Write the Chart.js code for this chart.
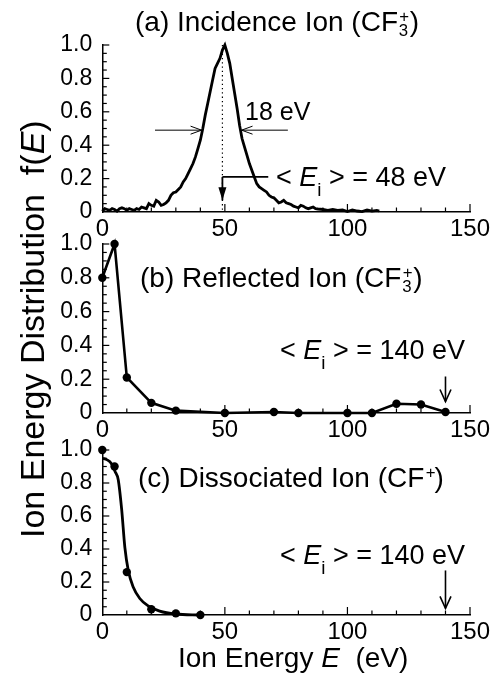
<!DOCTYPE html>
<html><head><meta charset="utf-8">
<script src="https://cdn.jsdelivr.net/npm/chart.js@4.4.1/dist/chart.umd.min.js"></script>
<style>
html,body{margin:0;padding:0;background:#fff;}
#wrap{position:relative;width:498px;height:677px;overflow:hidden;font-family:"Liberation Sans",Arial,Helvetica,sans-serif;color:#000;}
canvas{position:absolute;left:0;top:0;}
.t{position:absolute;white-space:nowrap;line-height:1;}
.e{font-style:italic;}
.si{font-size:0.7em;position:relative;top:0.5em;}
.ss{display:inline-block;position:relative;width:0.42em;height:1em;}
.ss .sp{position:absolute;left:0.08em;top:0.33em;font-size:0.6em;line-height:1;}
.ss .sb{position:absolute;left:0.05em;top:1.17em;font-size:0.6em;line-height:1;}
</style></head>
<body>
<div id="wrap">
<canvas id="ca" width="498" height="677"></canvas>
<canvas id="cb" width="498" height="677"></canvas>
<canvas id="cc" width="498" height="677"></canvas>
<div class="t" style="font-size:28px;left:135px;top:3.3px">(a) Incidence Ion (CF<span class="ss"><span class="sp">+</span><span class="sb">3</span></span>)</div>
<div class="t" style="font-size:25px;left:245px;top:98.8px">18 eV</div>
<div class="t" style="font-size:27px;left:276px;top:164.1px">&lt; <span class="e">E</span><span class="si">i</span> &gt; = 48 eV</div>
<div class="t" style="font-size:28px;left:140px;top:259.3px">(b) Reflected Ion (CF<span class="ss"><span class="sp">+</span><span class="sb">3</span></span>)</div>
<div class="t" style="font-size:27px;left:280px;top:337.1px">&lt; <span class="e">E</span><span class="si">i</span> &gt; = 140 eV</div>
<div class="t" style="font-size:28px;left:138px;top:459.3px">(c) Dissociated Ion (CF<span class="ss" style="width:0.36em"><span class="sp">+</span></span>)</div>
<div class="t" style="font-size:27px;left:280px;top:542.1px">&lt; <span class="e">E</span><span class="si">i</span> &gt; = 140 eV</div>
<div class="t" style="font-size:28px;left:178px;top:644.3px">Ion Energy <span class="e">E</span>&nbsp; (eV)</div>
<div class="t" style="font-size:34px;left:15px;top:538px;transform-origin:0 0;transform:rotate(-90deg)">Ion Energy Distribution&nbsp; f(<span class="e">E</span>)</div>
</div>
<script>
// ---------------- data ----------------
const X_TICKS = [0, 50, 100, 150];
const Y_TICKS = [0, 0.2, 0.4, 0.6, 0.8, 1.0];
const X_MINOR_STEP = 10;
const Y_MINOR_STEP = 0.05;

// (a) incident ion CF3+
const incidenceE = [0,1,2,3,4,5,6,7,8,9,10,11,12,13,14,15,16,17,18,19,20,21,22,23,24,25,26,27,28,29,30,31,32,33,34,35,36,37,38,39,40,41,42,43,44,45,46,47,48,49,50,51,52,53,54,55,56,57,58,59,60,61,62,63,64,65,66,67,68,69,70,71,72,73,74,75,76,77,78,79,80,81,82,83,84,85,86,87,88,90,92,94,96,98,100,102,104,106,108,110,112,113];
const incidenceF = [0.005,0.02,0.015,0.01,0.02,0.015,0.005,0.02,0.025,0.02,0.01,0.02,0.015,0.01,0.02,0.015,0.03,0.025,0.02,0.05,0.04,0.035,0.07,0.06,0.04,0.045,0.055,0.07,0.1,0.115,0.12,0.135,0.15,0.18,0.2,0.23,0.26,0.29,0.33,0.38,0.43,0.5,0.58,0.65,0.72,0.79,0.86,0.89,0.92,0.97,1.0,0.95,0.89,0.8,0.71,0.62,0.52,0.44,0.39,0.34,0.29,0.25,0.21,0.17,0.15,0.14,0.13,0.12,0.1,0.09,0.085,0.07,0.055,0.06,0.07,0.055,0.05,0.045,0.035,0.03,0.025,0.04,0.035,0.025,0.02,0.025,0.03,0.02,0.018,0.015,0.01,0.015,0.01,0.012,0.003,0.012,0.006,0.002,0.012,0.005,0.01,0.006];

// (b) reflected ion CF3+
const reflectedE = [0,5,10,20,30,50,70,80,100,110,120,130,140];
const reflectedF = [0.80,1.00,0.21,0.06,0.014,0,0.006,0,0,0,0.055,0.05,0.006];

// (c) dissociated ion CF+
const dissocE = [0,5,10,20,30,40];
const dissocF = [1.0,0.90,0.26,0.035,0.01,0];
const dissocFitE = [0,2,3.6,5.2,6.5,7.9,9.2,10.6,12.6,15.3,18.7,23.4,30,40];
const dissocFitF = [0.95,0.94,0.92,0.87,0.82,0.64,0.41,0.27,0.17,0.10,0.055,0.024,0.006,0];

// annotations (data coordinates)
const MEAN_A = 49;
const MEAN_A_BEND = 0.21;
const MEAN_A_TIP = 0.07;
const MEAN_A_LEADER_END = 67.7;
const HALF_LEVEL = 0.49;
const HALF_LEFT = [21.5, 40.5];
const HALF_RIGHT = [75.7, 56.8];
const MEAN_BC = 140;
const ARROW_B = [0.216, 0.068];
const ARROW_C = [0.27, 0.04];

// ---------------- helpers ----------------
const FONT = "'Liberation Sans', Arial, Helvetica, sans-serif";
Chart.defaults.font.family = FONT;
Chart.defaults.color = '#000';

function pts(xs, ys){ return xs.map((v,i)=>({x:v, y:ys[i]})); }
function line(ctx,x1,y1,x2,y2){ ctx.beginPath(); ctx.moveTo(x1,y1); ctx.lineTo(x2,y2); ctx.stroke(); }
function vHead(ctx,x,y,dir,len,half,filled){
  ctx.beginPath(); ctx.moveTo(x-half,y-dir*len); ctx.lineTo(x,y); ctx.lineTo(x+half,y-dir*len);
  if(filled){ ctx.closePath(); ctx.fill(); } else ctx.stroke();
}
function hHead(ctx,x,y,dir,len,half){
  ctx.beginPath(); ctx.moveTo(x-dir*len,y-half); ctx.lineTo(x,y); ctx.lineTo(x-dir*len,y+half); ctx.stroke();
}

const inTicks = {
  id:'inTicks',
  afterDraw(chart){
    const ctx = chart.ctx, x = chart.scales.x, y = chart.scales.y;
    const y0 = y.getPixelForValue(0), x0 = x.getPixelForValue(0);
    ctx.save(); ctx.strokeStyle='#000'; ctx.lineWidth=1.2;
    for(let v=X_MINOR_STEP; v<=x.max+1e-6; v+=X_MINOR_STEP){
      const px = x.getPixelForValue(v);
      const len = X_TICKS.includes(v) ? 8 : 4.5;
      line(ctx,px,y0,px,y0-len);
    }
    for(let i=1; i*Y_MINOR_STEP<=y.max+1e-6; i++){
      const v=i*Y_MINOR_STEP, py=y.getPixelForValue(v);
      const major = Y_TICKS.some(t=>Math.abs(t-v)<1e-6);
      line(ctx,x0,py,x0+(major?7:4.5),py);
    }
    ctx.restore();
  }
};

function makePanel(id, datasets, padTop, padBottom, annotate){
  return new Chart(document.getElementById(id), {
    type:'line',
    data:{datasets},
    options:{
      responsive:false, animation:false, devicePixelRatio:1,
      layout:{padding:{top:padTop,bottom:padBottom,left:0,right:28}},
      plugins:{legend:{display:false}, tooltip:{enabled:false}},
      scales:{
        x:{type:'linear', min:0, max:150,
           afterFit:(s)=>{ s.height = 30; },
           afterBuildTicks:(s)=>{ s.ticks = X_TICKS.map(v=>({value:v})); },
           ticks:{font:{size:24}, padding:3, maxRotation:0, autoSkip:false, color:'#000',
                  callback:(v)=>String(v)},
           grid:{display:false, drawTicks:false},
           border:{display:true, color:'#000', width:1.5}},
        y:{type:'linear', min:0, max:1.0,
           afterFit:(s)=>{ s.width = 102.3; },
           afterBuildTicks:(s)=>{ s.ticks = Y_TICKS.map(v=>({value:v})); },
           ticks:{font:{size:23}, padding:10, color:'#000',
                  callback:(v)=> v===0 ? '0' : v.toFixed(1)},
           grid:{display:false, drawTicks:false},
           border:{display:true, color:'#000', width:1.5}}
      }
    },
    plugins:[inTicks, {id:'annot_'+id, afterDraw:(chart)=>annotate(chart)}]
  });
}

// (a)
makePanel('ca', [{
  data: pts(incidenceE, incidenceF), borderColor:'#000', borderWidth:2.8,
  pointRadius:0, tension:0, fill:false, clip:false
}], 45, 677-212-30, (chart)=>{
  const ctx = chart.ctx, x = chart.scales.x, y = chart.scales.y;
  ctx.save(); ctx.strokeStyle='#000'; ctx.fillStyle='#000';
  ctx.lineWidth=1.2; ctx.setLineDash([1.3,3]);
  const mx = x.getPixelForValue(MEAN_A);
  line(ctx,mx,y.getPixelForValue(1.0),mx,y.getPixelForValue(0));
  ctx.setLineDash([]);
  ctx.lineWidth=1.8;
  const by = y.getPixelForValue(MEAN_A_BEND), ty = y.getPixelForValue(MEAN_A_TIP);
  line(ctx,x.getPixelForValue(MEAN_A_LEADER_END),by,mx,by);
  line(ctx,mx,by,mx,ty);
  vHead(ctx,mx,ty,1,13,4,true);
  ctx.lineWidth=1;
  const hy = y.getPixelForValue(HALF_LEVEL);
  line(ctx,x.getPixelForValue(HALF_LEFT[0]),hy,x.getPixelForValue(HALF_LEFT[1]),hy);
  hHead(ctx,x.getPixelForValue(HALF_LEFT[1]),hy,1,11,4);
  line(ctx,x.getPixelForValue(HALF_RIGHT[0]),hy,x.getPixelForValue(HALF_RIGHT[1]),hy);
  hHead(ctx,x.getPixelForValue(HALF_RIGHT[1]),hy,-1,11,4);
  ctx.restore();
});

function meanArrow(range){
  return (chart)=>{
    const ctx = chart.ctx, x = chart.scales.x, y = chart.scales.y;
    ctx.save(); ctx.strokeStyle='#000'; ctx.lineWidth=1.6;
    const px = x.getPixelForValue(MEAN_BC);
    const y1 = y.getPixelForValue(range[0]), y2 = y.getPixelForValue(range[1]);
    line(ctx,px,y1,px,y2);
    vHead(ctx,px,y2,1,12,5.5,false);
    ctx.restore();
  };
}

// (b)
makePanel('cb', [{
  data: pts(reflectedE, reflectedF), borderColor:'#000', backgroundColor:'#000', borderWidth:2.6,
  pointRadius:4.2, pointBorderWidth:0, tension:0, fill:false, clip:false
}], 244, 677-413-30, meanArrow(ARROW_B));

// (c)
makePanel('cc', [{
  data: pts(dissocFitE, dissocFitF), borderColor:'#000', borderWidth:2.8,
  pointRadius:0, cubicInterpolationMode:'monotone', fill:false, clip:false
},{
  data: pts(dissocE, dissocF), showLine:false, borderColor:'#000', backgroundColor:'#000',
  pointRadius:4.2, pointBorderWidth:0, clip:false
}], 450, 677-615-30, meanArrow(ARROW_C));
</script>
</body></html>
